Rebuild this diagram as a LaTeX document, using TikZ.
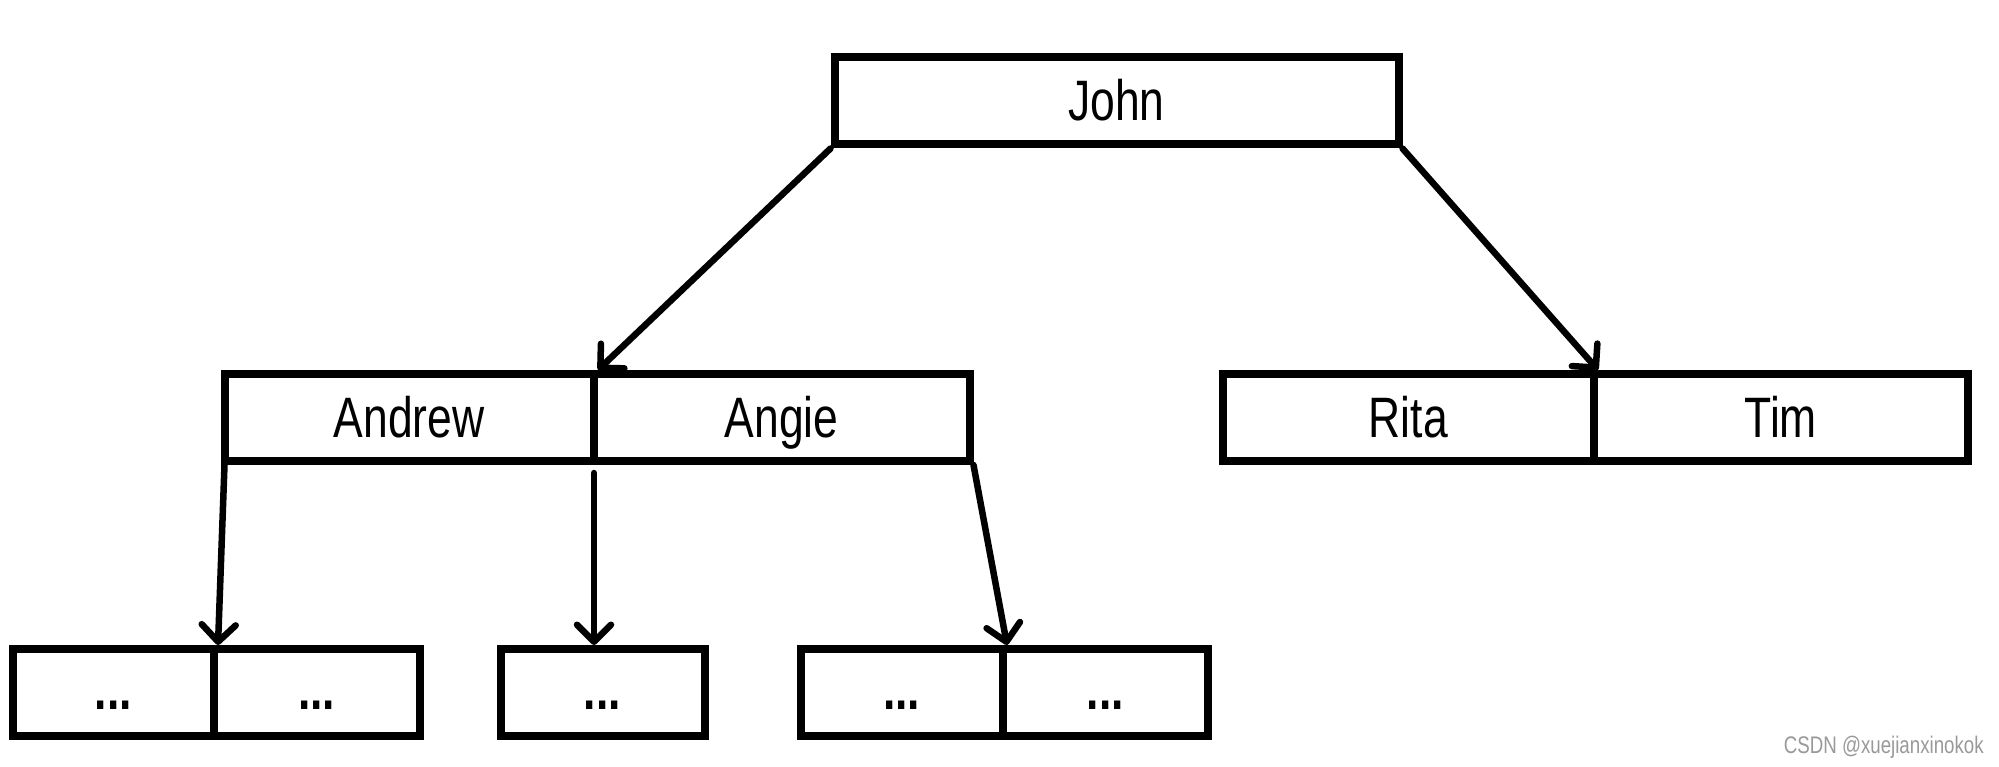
\documentclass[tikz,border=0pt]{standalone}
\usepackage{fontspec}
\setmainfont{Liberation Sans}[FakeStretch=0.78]
\usetikzlibrary{arrows.meta}
\begin{document}
\begin{tikzpicture}[x=1pt,y=1pt,
  cell/.style={draw, line width=8pt, minimum height=87pt, inner sep=0pt,
    font=\fontsize{57}{60}\selectfont, text height=40pt, text depth=0pt},
  dotcell/.style={cell, text height=34pt, font=\fontsize{57}{60}\selectfont\bfseries},
  arr/.style={line width=6.5pt, line cap=round,
    -{Straight Barb[length=17pt,width=34pt,line cap=round,line join=round]}},
  wm/.style={text=black!40, font=\fontsize{24}{26}\selectfont, anchor=east, inner sep=0pt}]
\useasboundingbox (0,0) rectangle (1999,-767);
% level 0
\node[cell, minimum width=564pt] (john) at (1116.5,-101) {John};
% level 1
\node[cell, minimum width=369.5pt] (andrew) at (409.25,-417.5) {Andrew};
\node[cell, minimum width=375.5pt] (angie) at (781.75,-417.5) {Angie};
\node[cell, minimum width=371.5pt] (rita) at (1408.25,-417.5) {Rita};
\node[cell, minimum width=373.5pt] (tim) at (1780.75,-417.5) {Tim};
% level 2
\node[dotcell, minimum width=201.5pt] (bla) at (113.25,-692.5) {...};
\node[dotcell, minimum width=205.5pt] (blb) at (316.75,-692.5) {...};
\node[dotcell, minimum width=204pt] (bm) at (602.5,-692.5) {...};
\node[dotcell, minimum width=202.5pt] (bra) at (901.75,-692.5) {...};
\node[dotcell, minimum width=204.5pt] (brb) at (1105.25,-692.5) {...};
% connectors
\coordinate (midtop) at ([xshift=-4pt,yshift=-8pt]andrew.south east);
\draw[arr] (john.south west) -- (andrew.north east);
\draw[arr] (john.south east) -- (rita.north east);
\draw[arr] ([xshift=4pt]andrew.south west) -- (bla.north east);
\draw[arr] (midtop) -- (midtop |- bm.north);
\draw[arr] (angie.south east) -- (bra.north east);
% watermark
\node[wm] (mark) at (1984,-747) {CSDN @xuejianxinokok};
\end{tikzpicture}
\end{document}
